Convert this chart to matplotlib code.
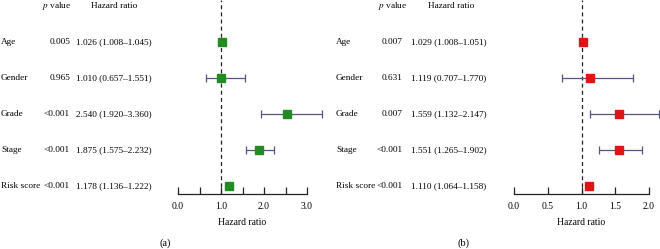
import matplotlib
matplotlib.use("Agg")
import matplotlib.pyplot as plt
from matplotlib.transforms import blended_transform_factory
from matplotlib.ticker import MultipleLocator

plt.rcParams['font.family'] = ['Liberation Serif', 'DejaVu Serif']
plt.rcParams['mathtext.fontset'] = 'stix'

variables = ["Age", "Gender", "Grade", "Stage", "Risk score"]

hr_a = [1.026, 1.010, 2.540, 1.875, 1.178]
low_a = [1.008, 0.657, 1.920, 1.575, 1.136]
high_a = [1.045, 1.551, 3.360, 2.232, 1.222]
p_a = ["0.005", "0.965", "<0.001", "<0.001", "<0.001"]

hr_b = [1.029, 1.119, 1.559, 1.551, 1.110]
low_b = [1.008, 0.707, 1.132, 1.265, 1.064]
high_b = [1.051, 1.770, 2.147, 1.902, 1.158]
p_b = ["0.007", "0.631", "0.007", "<0.001", "<0.001"]

xticks_a = [0.0, 1.0, 2.0, 3.0]
xticks_b = [0.0, 0.5, 1.0, 1.5, 2.0]

W, H = 660, 249
fig = plt.figure(figsize=(W / 100, H / 100), dpi=100)

FS = 6.7
row0, rowstep = 42, 36  # pixel positions of rows
axis_y = 194


def px(x):
    return x / W


def panel(ax_left, ax_right, xmax, hr, low, high, pv, color, xticks,
          lab_x, p_x, hr_x, hdr_p_x, hdr_hr_x, tag, tag_x):
    ax = fig.add_axes([px(ax_left), 1 - axis_y / H, px(ax_right - ax_left), axis_y / H])
    n = len(variables)
    ytop = (0 - row0) / rowstep
    ybot = (axis_y - row0) / rowstep
    ax.set_xlim(0, xmax)
    ax.set_ylim(ybot, ytop)
    ax.patch.set_visible(False)
    for s in ["top", "left", "right"]:
        ax.spines[s].set_visible(False)
    ax.spines["bottom"].set_linewidth(0.9)
    ax.spines["bottom"].set_color("#222222")
    ax.set_yticks([])
    ax.set_xticks(xticks, [f"{t:.1f}" for t in xticks], minor=False)
    ax.xaxis.set_minor_locator(MultipleLocator(0.5))
    ax.tick_params(axis="x", which="both", direction="in", length=5, width=0.9,
                   labelsize=FS + 0.2, pad=6, color="#222222")
    ax.set_xlabel("Hazard ratio", fontsize=FS + 0.2, labelpad=5)
    ax.axvline(1.0, color="#222222", lw=0.9, ls=(0, (3.2, 2.5)), zorder=1)
    ys = list(range(n))
    for i in range(n):
        ax.errorbar(hr[i], ys[i], xerr=[[hr[i] - low[i]], [high[i] - hr[i]]],
                    fmt="s", color=color, ms=5.2, mec=color,
                    ecolor="#55557f", elinewidth=0.9, capsize=3, capthick=0.9,
                    clip_on=False, zorder=3)
    tr = blended_transform_factory(fig.transFigure, ax.transData)
    for i in range(n):
        fig.text(px(lab_x), ys[i], variables[i], transform=tr, ha="left",
                 va="center", fontsize=FS)
        fig.text(px(p_x), ys[i], pv[i], transform=tr, ha="right",
                 va="center", fontsize=FS)
        fig.text(px(hr_x), ys[i], f"{hr[i]:.3f} ({low[i]:.3f}\u2013{high[i]:.3f})",
                 transform=tr, ha="left", va="center", fontsize=FS)
    fig.text(px(hdr_p_x), 1 - 6 / H, "$p$ value", ha="center", va="center", fontsize=FS)
    fig.text(px(hdr_hr_x), 1 - 6 / H, "Hazard ratio", ha="center", va="center", fontsize=FS)
    fig.text(px(tag_x), 1 - 243 / H, tag, ha="center", va="center", fontsize=FS + 0.8)
    return ax


panel(178, 307, 3.0, hr_a, low_a, high_a, p_a, "#228b22", xticks_a,
      1, 70, 76, 57, 114, "(a)", 165)
panel(514, 649, 2.0, hr_b, low_b, high_b, p_b, "#dd1515", xticks_b,
      336, 403, 411, 393, 451, "(b)", 463)

fig.savefig("out.png", dpi=100)
